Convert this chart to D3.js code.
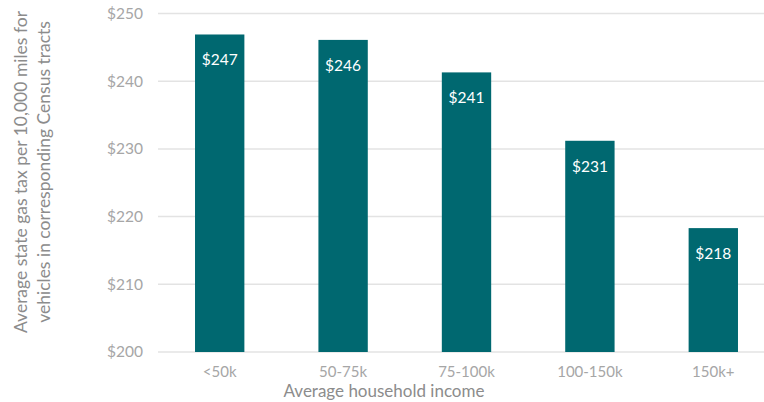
<!DOCTYPE html>
<html>
<head>
<meta charset="utf-8">
<script src="https://cdn.jsdelivr.net/npm/d3@7"></script>
<style>
  body{margin:0;background:#fff;}
  svg{display:block;font-family:Lato,"Open Sans",sans-serif;}
</style>
</head>
<body>
<svg id="chart" width="764" height="402"></svg>
<script>
// ── data ──
const categories=['<50k','50-75k','75-100k','100-150k','150k+'];
const taxValues=[246.9,246.1,241.3,231.2,218.3];
const barLabels=['$247','$246','$241','$231','$218'];
const yTicks=[200,210,220,230,240,250];

const W=764,H=402;
const svg=d3.select('#chart');

const x=d3.scaleBand().domain(categories).range([158,775]).paddingInner(0.6).paddingOuter(0.3);
const y=d3.scaleLinear().domain([200,250]).range([352,13.5]);

// gridlines
svg.append('g').selectAll('line').data(yTicks).join('line')
  .attr('x1',158).attr('x2',W)
  .attr('y1',d=>y(d)).attr('y2',d=>y(d))
  .attr('stroke','#e3e3e3').attr('stroke-width',1.5);

// y tick labels
svg.append('g').selectAll('text').data(yTicks).join('text')
  .attr('x',143).attr('y',d=>y(d)).attr('dy','0.35em')
  .attr('text-anchor','end').attr('fill','#a6a6a6').attr('font-size',15.5)
  .text(d=>'$'+d);

// bars
const rows=categories.map((c,i)=>({c,v:taxValues[i],lab:barLabels[i]}));
svg.append('g').selectAll('rect').data(rows).join('rect')
  .attr('x',d=>x(d.c)).attr('width',x.bandwidth())
  .attr('y',d=>y(d.v)).attr('height',d=>y(200)-y(d.v))
  .attr('fill','#006870');

svg.append('g').selectAll('text').data(rows).join('text')
  .attr('x',d=>x(d.c)+x.bandwidth()/2).attr('y',d=>y(d.v)+31)
  .attr('text-anchor','middle').attr('fill','#fff').attr('font-size',15.5)
  .text(d=>d.lab);

// x tick labels
svg.append('g').selectAll('text').data(categories).join('text')
  .attr('x',d=>x(d)+x.bandwidth()/2).attr('y',377)
  .attr('text-anchor','middle').attr('fill','#a6a6a6').attr('font-size',15)
  .text(d=>d);

// axis titles
svg.append('text').attr('x',384).attr('y',397).attr('text-anchor','middle')
  .attr('fill','#8c8c8c').attr('font-size',17).text('Average household income');

const yt=svg.append('text').attr('transform','translate(27,172) rotate(-90)')
  .attr('text-anchor','middle').attr('fill','#8c8c8c').attr('font-size',17.5);
yt.append('tspan').attr('x',0).attr('dy',0).text('Average state gas tax per 10,000 miles for');
yt.append('tspan').attr('x',0).attr('dy',23).text('vehicles in corresponding Census tracts');
</script>
</body>
</html>
